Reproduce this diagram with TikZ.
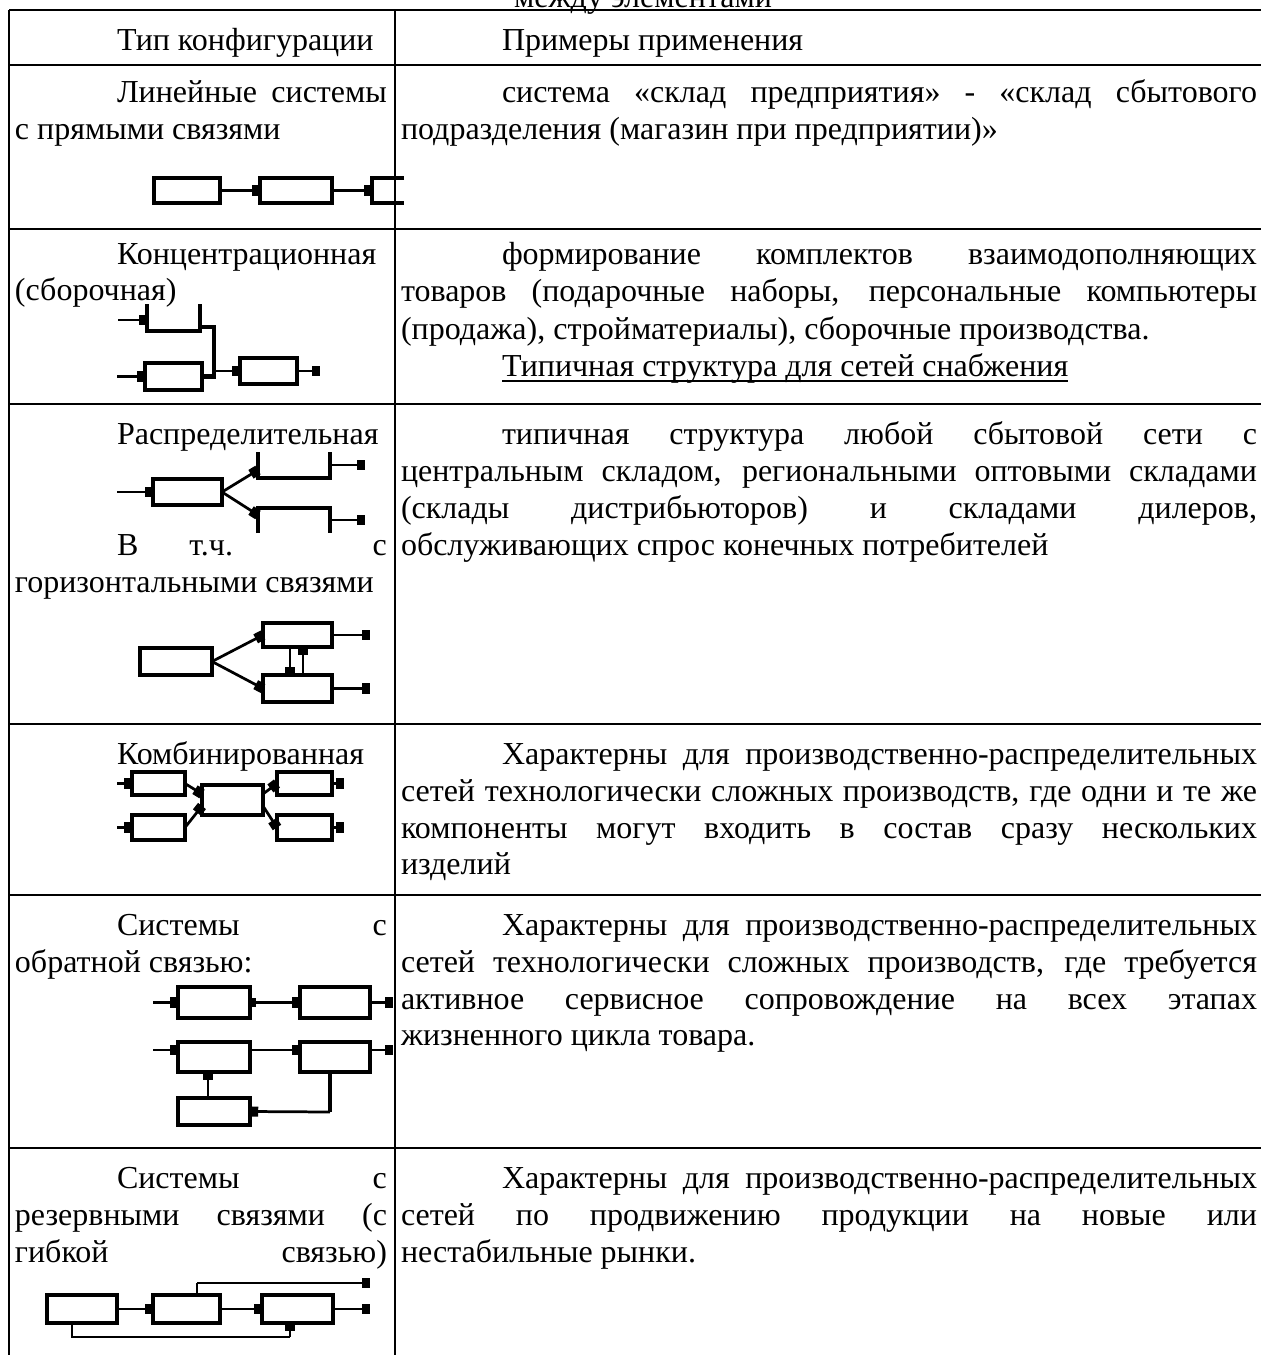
\documentclass[tikz,border=0pt]{standalone}
\usepackage{fontspec}
\setmainfont{Liberation Serif}
\usetikzlibrary{arrows.meta,calc}
\newcommand\JL[2]{\makebox[#1][s]{#2}}
\begin{document}
\begin{tikzpicture}[x=0.4375pt,y=-0.4375pt,
  font=\fontsize{14pt}{16.1pt}\selectfont,
  tl/.style={line width=0.7pt},
  bx/.style 2 args={draw, line width=1.9pt, inner sep=0pt, outer sep=0pt,
     minimum width=#1*0.4375pt, minimum height=#2*0.4375pt},
  con/.style={line width=1.2pt, -{Rectangle[length=3.6pt,width=4.4pt]}},
  ln/.style={line width=1.2pt},
  opn/.style={line width=1.9pt},
  txt/.style={anchor=base west, inner sep=0pt, outer sep=0pt}]
\useasboundingbox (0,0) rectangle (1261,1355);
\clip (0,0) rectangle (1261,1355);

% ---------- table rules ----------
\foreach \yy in {10,65,229,404,724,895,1148}{\draw[tl] (9,\yy) -- (1261,\yy);}
\draw[tl] (9,10) -- (9,1355);
\draw[tl] (395,10) -- (395,1355);

% ---------- title remnant (cut by the page edge, as in the source) ----------
\node[anchor=base, inner sep=0pt] (ttl) at (643,7) {между элементами};

% ---------- header ----------
\node[txt] (h1) at (117,50) {Тип конфигурации};
\node[txt] (h2) at (502,50) {Примеры применения};

% ---------- row 1 ----------
\node[txt] (t1a) at (117,102) {\JL{118.1pt}{Линейные системы}};
\node[txt] (t1b) at (15,139) {с прямыми связями};
\node[txt] (p1a) at (502,102) {\JL{330.3pt}{система «склад предприятия» - «склад сбытового}};
\node[txt] (p1b) at (401,139) {подразделения (магазин при предприятии)»};

\node[bx={66}{25}] (b11) at (187,190.5) {};
\node[bx={72}{25}] (b12) at (296,190.5) {};
\draw[opn] (404,178) -- (372,178) -- (372,203) -- (404,203);
\coordinate (c13) at (372,190.5);
\draw[con] (b11.east) -- (b12.west);
\draw[con] (b12.east) -- (c13);

% ---------- row 2 ----------
\node[txt] (t2a) at (117,264) {Концентрационная};
\node[txt] (t2b) at (15,300) {(сборочная)};
\node[txt] (p2a) at (502,264) {\JL{330.3pt}{формирование комплектов взаимодополняющих}};
\node[txt] (p2b) at (401,301) {\JL{374.5pt}{товаров (подарочные наборы, персональные компьютеры}};
\node[txt] (p2c) at (401,339) {(продажа), стройматериалы), сборочные производства.};
\node[txt] (p2d) at (502,376) {Типичная структура для сетей снабжения};
\draw[line width=0.8pt] ($(p2d.base west)+(0,5)$) -- ($(p2d.base east)+(0,5)$);

\draw[opn] (147,304) -- (147,331) -- (200,331) -- (200,304);
\coordinate (u2in) at (147,320);
\coordinate (u2out) at (200,327);
\coordinate (s2a) at (118,320);
\draw[con] (s2a) -- (u2in);
\node[bx={57}{27}] (b2b) at (173.5,376.5) {};
\coordinate (s2b) at (117,376.5);
\draw[con] (s2b) -- (b2b.west);
\node[bx={57}{26}] (b2c) at (268.5,371) {};
\coordinate (j2t) at (214,327);
\draw[opn] (u2out) -- (j2t) -- (j2t |- b2b.east) -- (b2b.east);
\draw[con] (j2t |- b2c.west) -- (b2c.west);
\coordinate (o2) at (320,371);
\draw[con] (b2c.east) -- (o2);

% ---------- row 3 ----------
\node[txt] (t3a) at (117,444) {Распределительная};
\node[txt] (t3b) at (117,555) {\JL{118.1pt}{В т.ч. с}};
\node[txt] (t3c) at (15,592) {горизонтальными связями};
\node[txt] (p3a) at (502,444) {\JL{330.3pt}{типичная структура любой сбытовой сети с}};
\node[txt] (p3b) at (401,481) {\JL{374.5pt}{центральным складом, региональными оптовыми складами}};
\node[txt] (p3c) at (401,518) {\JL{374.5pt}{(склады дистрибьюторов) и складами дилеров,}};
\node[txt] (p3d) at (401,555) {обслуживающих спрос конечных потребителей};

% distribution, part 1
\node[bx={69}{26}] (b3a) at (187.5,492) {};
\coordinate (s3a) at (117,492);
\draw[con] (s3a) -- (b3a.west);
\draw[opn] (258,452) -- (258,478) -- (330,478) -- (330,452);
\draw[opn] (258,533) -- (258,508) -- (330,508) -- (330,533);
\coordinate (u3in) at (258,470);
\coordinate (d3in) at (258,515);
\draw[con] (b3a.east) -- (u3in);
\draw[con] (b3a.east) -- (d3in);
\coordinate (u3o) at (330,465);
\coordinate (u3e) at (365,465);
\coordinate (d3o) at (330,520);
\coordinate (d3e) at (365,520);
\draw[con] (u3o) -- (u3e);
\draw[con] (d3o) -- (d3e);

% distribution, part 2 (horizontal links)
\node[bx={72}{27}] (b3l) at (176,661.5) {};
\node[bx={69}{24}] (b3u) at (297.5,635) {};
\node[bx={69}{27}] (b3d) at (297.5,688.5) {};
\draw[con] (b3l.east) -- (b3u.west);
\draw[con] (b3l.east) -- (b3d.west);
\draw[con] ($(b3u.south)+(-7.5,0)$) -- ($(b3d.north)+(-7.5,0)$);
\draw[con] ($(b3d.north)+(5.5,0)$) -- ($(b3u.south)+(5.5,0)$);
\draw[con] (b3u.east) -- ++(38,0);
\draw[con] (b3d.east) -- ++(38,0);

% ---------- row 4 ----------
\node[txt] (t4a) at (117,764) {Комбинированная};
\node[txt] (p4a) at (502,764) {\JL{330.3pt}{Характерны для производственно-распределительных}};
\node[txt] (p4b) at (401,801) {\JL{374.5pt}{сетей технологически сложных производств, где одни и те же}};
\node[txt] (p4c) at (401,838) {\JL{374.5pt}{компоненты могут входить в состав сразу нескольких}};
\node[txt] (p4d) at (401,874) {изделий};

\node[bx={53}{23}] (b4a) at (158.5,783.5) {};
\node[bx={53}{25}] (b4b) at (158.5,827.5) {};
\node[bx={61}{30}] (b4c) at (232.5,800) {};
\node[bx={55}{23}] (b4d) at (304.5,783.5) {};
\node[bx={55}{25}] (b4e) at (304.5,827.5) {};
\coordinate (s4a) at (117,783.5);
\coordinate (s4b) at (117,827.5);
\draw[con] (s4a) -- (b4a.west);
\draw[con] (s4b) -- (b4b.west);
\draw[con] (b4a.east) -- ($(b4c.west)+(0,-6)$);
\draw[con] (b4b.east) -- ($(b4c.west)+(0,6)$);
\draw[con] ($(b4c.east)+(0,-6)$) -- (b4d.west);
\draw[con] ($(b4c.east)+(0,6)$) -- (b4e.west);
\draw[con] (b4d.east) -- ++(12,0);
\draw[con] (b4e.east) -- ++(12,0);

% ---------- row 5 ----------
\node[txt] (t5a) at (117,935) {\JL{118.1pt}{Системы с}};
\node[txt] (t5b) at (15,972) {обратной связью:};
\node[txt] (p5a) at (502,935) {\JL{330.3pt}{Характерны для производственно-распределительных}};
\node[txt] (p5b) at (401,972) {\JL{374.5pt}{сетей технологически сложных производств, где требуется}};
\node[txt] (p5c) at (401,1009) {\JL{374.5pt}{активное сервисное сопровождение на всех этапах}};
\node[txt] (p5d) at (401,1045) {жизненного цикла товара.};

\node[bx={72}{31}] (a51) at (214,1002.5) {};
\node[bx={70}{31}] (a52) at (335,1002.5) {};
\node[bx={72}{30}] (b51) at (214,1057) {};
\node[bx={70}{30}] (b52) at (335,1057) {};
\node[bx={72}{27}] (c51) at (214,1111.5) {};
\coordinate (s5a) at (153,1002.5);
\coordinate (s5b) at (153,1050);
\draw[con] (s5a) -- (a51.west);
\draw[con] (s5b) -- (s5b -| b51.west);
\draw[con,{Rectangle[length=2.8pt,width=3.8pt]}-{Rectangle[length=3.6pt,width=4.4pt]}] (a51.east) -- (a52.west);
\draw[con] (s5b -| b51.east) -- (s5b -| b52.west);
\coordinate (o5a) at (393,1002.5);
\coordinate (o5b) at (393,1050);
\draw[con] (a52.east) -- (o5a);
\draw[con] (o5b -| b52.east) -- (o5b);
\draw[con] ($(c51.north)+(-6,0)$) -- ($(b51.south)+(-6,0)$);
\coordinate (f5) at (330,1112);
\draw[opn] ($(b52.south)+(-5,0)$) -- (f5);
\draw[con] (f5) -- (c51.east);

% ---------- row 6 ----------
\node[txt] (t6a) at (117,1188) {\JL{118.1pt}{Системы с}};
\node[txt] (t6b) at (15,1225) {\JL{162.75pt}{резервными связями (с}};
\node[txt] (t6c) at (15,1262) {\JL{162.75pt}{гибкой связью)}};
\node[txt] (p6a) at (502,1188) {\JL{330.3pt}{Характерны для производственно-распределительных}};
\node[txt] (p6b) at (401,1225) {\JL{374.5pt}{сетей по продвижению продукции на новые или}};
\node[txt] (p6c) at (401,1262) {нестабильные рынки.};

\node[bx={70}{28}] (b61) at (82,1309) {};
\node[bx={67}{28}] (b62) at (186.5,1309) {};
\node[bx={71}{28}] (b63) at (297.5,1309) {};
\draw[con] (b61.east) -- (b62.west);
\draw[con] (b62.east) -- (b63.west);
\draw[con] (b63.east) -- ++(37,0);
\coordinate (g6a) at (197,1283);
\coordinate (g6b) at (370,1283);
\draw[ln] ($(b62.north)+(10.5,0)$) -- (g6a);
\draw[con] (g6a) -- (g6b);
\coordinate (g6c) at (72,1337);
\coordinate (g6d) at (290,1337);
\draw[ln] ($(b61.south)+(-10,0)$) -- (g6c) -- (g6d);
\draw[con] (g6d) -- ($(b63.south)+(-7.5,0)$);
\end{tikzpicture}
\end{document}
